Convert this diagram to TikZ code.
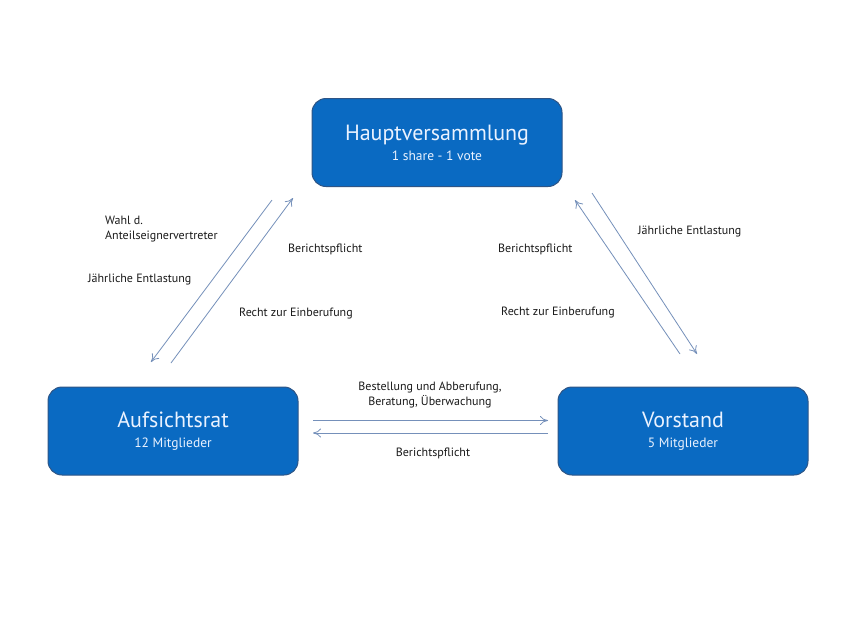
\documentclass[tikz,border=0pt]{standalone}
\usepackage{fontspec}
\setmainfont{PT Sans}
\usetikzlibrary{arrows.meta}
\definecolor{boxfill}{HTML}{0A6AC2}
\definecolor{boxline}{HTML}{2E5586}
\definecolor{arrowc}{HTML}{7590BA}
\definecolor{txtc}{HTML}{EAF2FF}
\definecolor{lblc}{HTML}{1A1A1A}
\begin{document}
\begin{tikzpicture}[x=1pt,y=-1pt,
  orgbox/.style={draw=boxline,line width=1pt,fill=boxfill,rounded corners=14pt,
    minimum width=250pt,minimum height=88pt,align=center,text=txtc,inner sep=0pt,
    font=\fontsize{13.5}{20}\selectfont},
  conn/.style={draw=arrowc,line width=0.8pt,-{To[length=8pt,width=9pt]}},
  lbl/.style={font=\fontsize{12}{15}\selectfont,text=lblc,inner sep=0pt}]
\useasboundingbox[fill=white] (0,0) rectangle (853,640);
\node[orgbox] (hv) at (437,142.5) {{\fontsize{22}{24}\selectfont Hauptversammlung}\\1 share - 1 vote};
\node[orgbox] (ar) at (173,431) {{\fontsize{22}{24}\selectfont Aufsichtsrat}\\12 Mitglieder};
\node[orgbox] (vs) at (683,431) {{\fontsize{22}{24}\selectfont Vorstand}\\5 Mitglieder};
% coordinates for arrow ends
\coordinate (l1s) at (272,200); \coordinate (l1e) at (151,362);
\coordinate (l2s) at (171,363); \coordinate (l2e) at (293,198);
\coordinate (r1s) at (680,354); \coordinate (r1e) at (575,200);
\coordinate (r2s) at (592,193); \coordinate (r2e) at (697,354);
\coordinate (h1s) at (313,420.5); \coordinate (h1e) at (548,420.5);
\coordinate (h2s) at (548,433); \coordinate (h2e) at (313,433);
\draw[conn] (l1s) -- (l1e);
\draw[conn] (l2s) -- (l2e);
\draw[conn] (r1s) -- (r1e);
\draw[conn] (r2s) -- (r2e);
\draw[conn] (h1s) -- (h1e);
\draw[conn] (h2s) -- (h2e);
% labels
\node[lbl,anchor=west,align=left] (t1) at (105,229.5) {Wahl d.\\Anteilseignervertreter};
\node[lbl,anchor=west] (t2) at (88,280) {Jährliche Entlastung};
\node[lbl,anchor=west] (t3) at (288,249) {Berichtspflicht};
\node[lbl,anchor=west] (t4) at (239,314) {Recht zur Einberufung};
\node[lbl,anchor=west] (t5) at (498,249) {Berichtspflicht};
\node[lbl,anchor=west] (t6) at (501,313) {Recht zur Einberufung};
\node[lbl,anchor=west] (t7) at (638,232) {Jährliche Entlastung};
\node[lbl,align=center] (t8) at (430,394.5) {Bestellung und Abberufung,\\Beratung, Überwachung};
\node[lbl] (t9) at (433,453) {Berichtspflicht};
\end{tikzpicture}
\end{document}
